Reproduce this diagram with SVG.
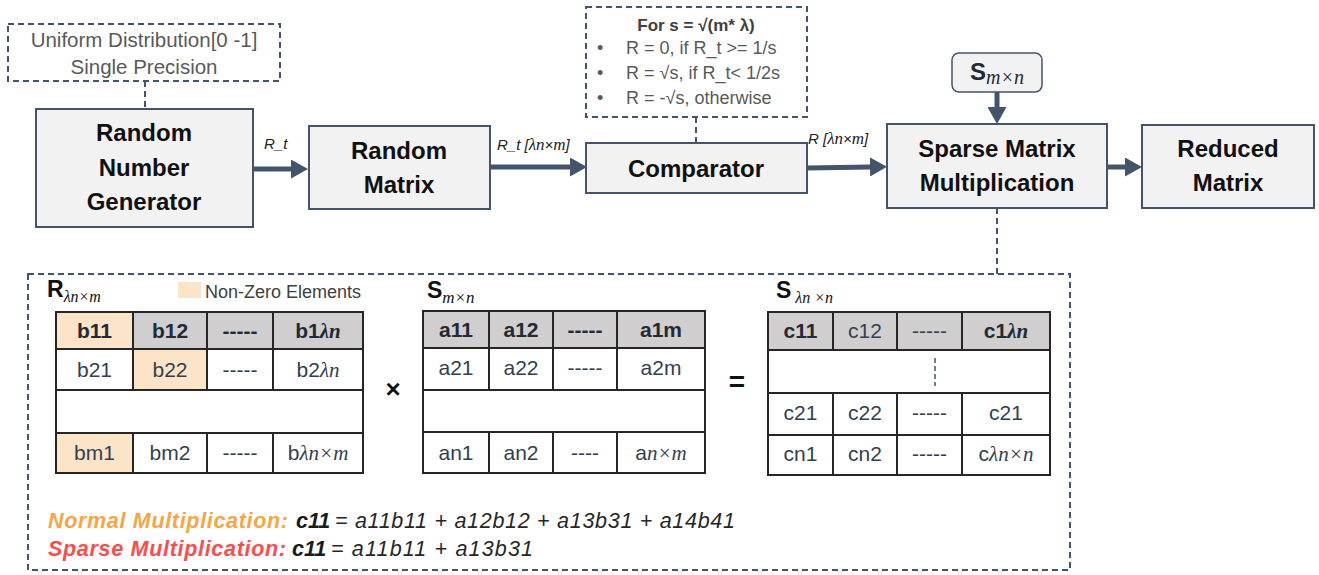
<svg xmlns="http://www.w3.org/2000/svg" width="1319" height="575" viewBox="0 0 1319 575">
<style>
.box{fill:#F2F2F2;stroke:#44546A;stroke-width:2}
.dbox{fill:#FFFFFF;stroke:#44546A;stroke-width:2;stroke-dasharray:6 4}
.dline{fill:none;stroke:#44546A;stroke-width:2;stroke-dasharray:6 4}
.arr{fill:none;stroke:#44546A;stroke-width:5}
.nt{font-family:"Liberation Sans",Arial,sans-serif;font-weight:bold;font-size:24px;fill:#111111;text-anchor:middle}
.gt{font-family:"Liberation Sans",Arial,sans-serif;font-size:20.5px;fill:#595959;text-anchor:middle}
.ct{font-family:"Liberation Sans",Arial,sans-serif;font-size:18px;fill:#595959}
.el{font-family:"Liberation Sans",Arial,sans-serif;font-style:italic;font-size:15px;fill:#222222}
.m{font-family:"Liberation Serif","DejaVu Serif",serif;font-style:italic}
.cell{fill:#FFFFFF;stroke:#262626;stroke-width:2}
.gray{fill:#D0CECE;stroke:#262626;stroke-width:2}
.org{fill:#FCE4C8;stroke:#262626;stroke-width:2}
.tx{font-family:"Liberation Sans",Arial,sans-serif;font-size:21px;fill:#333F50;text-anchor:middle}
.tb{font-family:"Liberation Sans",Arial,sans-serif;font-size:21px;font-weight:bold;fill:#222A35;text-anchor:middle}
.lbl{font-family:"Liberation Sans",Arial,sans-serif;font-size:23px;font-weight:bold;fill:#111111}
.fm{font-family:"Liberation Sans",Arial,sans-serif;font-style:italic;font-size:21.5px;fill:#262626}
</style>
<defs>
<marker id="ah" viewBox="0 0 17 19" refX="0" refY="9.5" markerWidth="17" markerHeight="19" markerUnits="userSpaceOnUse" orient="auto">
<polygon points="0,0 17,9.5 0,19" fill="#44546A"/>
</marker>
</defs>

<g id="connectors">
<line class="arr" x1="253" y1="169" x2="291" y2="169" marker-end="url(#ah)"/>
<line class="arr" x1="490" y1="167" x2="570" y2="167" marker-end="url(#ah)"/>
<line class="arr" x1="807" y1="168" x2="870" y2="167" marker-end="url(#ah)"/>
<line class="arr" x1="1107" y1="167" x2="1125" y2="167" marker-end="url(#ah)"/>
<line class="arr" x1="997" y1="92" x2="997" y2="107" marker-end="url(#ah)"/>
<line class="dline" x1="145" y1="81" x2="145" y2="108"/>
<line class="dline" x1="696" y1="117" x2="696" y2="143"/>
<line class="dline" x1="997" y1="208" x2="997" y2="274"/>
<text class="el" x="264" y="149">R_t</text>
<text class="el" x="497" y="150">R_t [<tspan class="m" style="font-size:17px">λn</tspan>×<tspan class="m" style="font-size:17px">m</tspan>]</text>
<text class="el" x="808" y="144">R [<tspan class="m" style="font-size:17px">λn</tspan>×<tspan class="m" style="font-size:17px">m</tspan>]</text>
</g>

<g id="uniform-note">
<rect class="dbox" x="8" y="24" width="272" height="57"/>
<text class="gt" x="144" y="47">Uniform Distribution[0 -1]</text>
<text class="gt" x="144" y="74">Single Precision</text>
</g>

<g id="rng">
<rect class="box" x="36" y="109" width="217" height="118"/>
<text class="nt" x="144" y="141">Random</text>
<text class="nt" x="144" y="176">Number</text>
<text class="nt" x="144" y="210">Generator</text>
</g>

<g id="random-matrix">
<rect class="box" x="309" y="126" width="181" height="83"/>
<text class="nt" x="399" y="159">Random</text>
<text class="nt" x="399" y="193">Matrix</text>
</g>

<g id="comparator-note">
<rect class="dbox" x="586" y="7" width="221" height="110"/>
<text x="696" y="31" style="font-family:'Liberation Sans',Arial,sans-serif;font-size:17px;font-weight:bold;fill:#404040;text-anchor:middle">For s = √(m* λ)</text>
<text class="ct" x="597" y="54">•</text>
<text class="ct" x="626" y="54">R = 0, if R_t &gt;= 1/s</text>
<text class="ct" x="597" y="79">•</text>
<text class="ct" x="626" y="79">R = √s, if R_t&lt; 1/2s</text>
<text class="ct" x="597" y="104">•</text>
<text class="ct" x="626" y="104">R = -√s, otherwise</text>
</g>

<g id="comparator">
<rect class="box" x="586" y="143" width="221" height="50"/>
<text class="nt" x="696" y="177">Comparator</text>
</g>

<g id="s-input">
<rect class="box" x="952" y="53" width="90" height="39" rx="7" style="stroke-width:1.5"/>
<text x="970" y="80" style="font-family:'Liberation Sans',Arial,sans-serif;font-size:24px;font-weight:bold;fill:#222A35">S<tspan class="m" style="font-weight:normal;font-size:20px" dy="4">m×n</tspan></text>
</g>

<g id="sparse-mult">
<rect class="box" x="887" y="124" width="220" height="84"/>
<text class="nt" x="997" y="157">Sparse Matrix</text>
<text class="nt" x="997" y="191">Multiplication</text>
</g>

<g id="reduced-matrix">
<rect class="box" x="1142" y="125" width="172" height="83"/>
<text class="nt" x="1228" y="157">Reduced</text>
<text class="nt" x="1228" y="191">Matrix</text>
</g>

<g id="detail">
<rect class="dline" x="28" y="274" width="1042" height="296"/>

<text class="lbl" x="47" y="297">R<tspan class="m" style="font-weight:normal;font-size:16px" dy="5">λn×m</tspan></text>
<rect x="178" y="282" width="23" height="16" fill="#FCE4C8"/>
<text x="205" y="298" style="font-family:'Liberation Sans',Arial,sans-serif;font-size:18px;fill:#404040">Non-Zero Elements</text>

<g id="matrix-r">
<rect class="org" x="56" y="312" width="77" height="37"/>
<rect class="gray" x="133" y="312" width="74" height="37"/>
<rect class="gray" x="207" y="312" width="66" height="37"/>
<rect class="gray" x="273" y="312" width="90" height="37"/>
<rect class="cell" x="56" y="349" width="77" height="41"/>
<rect class="org" x="133" y="349" width="74" height="41"/>
<rect class="cell" x="207" y="349" width="66" height="41"/>
<rect class="cell" x="273" y="349" width="90" height="41"/>
<rect class="cell" x="56" y="390" width="307" height="43"/>
<rect class="org" x="56" y="433" width="77" height="40"/>
<rect class="cell" x="133" y="433" width="74" height="40"/>
<rect class="cell" x="207" y="433" width="66" height="40"/>
<rect class="cell" x="273" y="433" width="90" height="40"/>
<text class="tb" x="94.5" y="338">b11</text>
<text class="tb" x="170" y="338">b12</text>
<text class="tb" x="240" y="338">-----</text>
<text class="tb" x="318" y="338">b1<tspan class="m">λn</tspan></text>
<text class="tx" x="94.5" y="377">b21</text>
<text class="tx" x="170" y="377">b22</text>
<text class="tx" x="240" y="377">-----</text>
<text class="tx" x="318" y="377">b2<tspan class="m">λn</tspan></text>
<text class="tx" x="94.5" y="460">bm1</text>
<text class="tx" x="170" y="460">bm2</text>
<text class="tx" x="240" y="460">-----</text>
<text class="tx" x="318" y="460">b<tspan class="m">λn×m</tspan></text>
</g>

<text x="393" y="398" style="font-family:'Liberation Sans',Arial,sans-serif;font-size:26px;font-weight:bold;fill:#111111;text-anchor:middle">×</text>

<text class="lbl" x="427" y="298">S<tspan class="m" style="font-weight:normal;font-size:17px" dy="5">m×n</tspan></text>
<g id="matrix-s">
<rect class="gray" x="423" y="311" width="66" height="37"/>
<rect class="gray" x="489" y="311" width="64" height="37"/>
<rect class="gray" x="553" y="311" width="64" height="37"/>
<rect class="gray" x="617" y="311" width="88" height="37"/>
<rect class="cell" x="423" y="348" width="66" height="42"/>
<rect class="cell" x="489" y="348" width="64" height="42"/>
<rect class="cell" x="553" y="348" width="64" height="42"/>
<rect class="cell" x="617" y="348" width="88" height="42"/>
<rect class="cell" x="423" y="390" width="282" height="42"/>
<rect class="cell" x="423" y="432" width="66" height="41"/>
<rect class="cell" x="489" y="432" width="64" height="41"/>
<rect class="cell" x="553" y="432" width="64" height="41"/>
<rect class="cell" x="617" y="432" width="88" height="41"/>
<text class="tb" x="456" y="337">a11</text>
<text class="tb" x="521" y="337">a12</text>
<text class="tb" x="585" y="337">-----</text>
<text class="tb" x="661" y="337">a1m</text>
<text class="tx" x="456" y="375">a21</text>
<text class="tx" x="521" y="375">a22</text>
<text class="tx" x="585" y="375">-----</text>
<text class="tx" x="661" y="375">a2m</text>
<text class="tx" x="456" y="460">an1</text>
<text class="tx" x="521" y="460">an2</text>
<text class="tx" x="585" y="460">----</text>
<text class="tx" x="661" y="460">a<tspan class="m">n×m</tspan></text>
</g>

<text x="737" y="391" style="font-family:'Liberation Sans',Arial,sans-serif;font-size:28px;font-weight:bold;fill:#111111;text-anchor:middle">=</text>

<text class="lbl" x="776" y="298">S<tspan class="m" style="font-weight:normal;font-size:16px" dy="5"> λn ×n</tspan></text>
<g id="matrix-c">
<rect class="gray" x="768" y="312" width="65" height="38"/>
<rect class="gray" x="833" y="312" width="64" height="38"/>
<rect class="gray" x="897" y="312" width="65" height="38"/>
<rect class="gray" x="962" y="312" width="88" height="38"/>
<rect class="cell" x="768" y="350" width="282" height="43"/>
<line x1="935" y1="358" x2="935" y2="386" stroke="#44546A" stroke-width="1.5" stroke-dasharray="5 3"/>
<rect class="cell" x="768" y="393" width="65" height="42"/>
<rect class="cell" x="833" y="393" width="64" height="42"/>
<rect class="cell" x="897" y="393" width="65" height="42"/>
<rect class="cell" x="962" y="393" width="88" height="42"/>
<rect class="cell" x="768" y="435" width="65" height="40"/>
<rect class="cell" x="833" y="435" width="64" height="40"/>
<rect class="cell" x="897" y="435" width="65" height="40"/>
<rect class="cell" x="962" y="435" width="88" height="40"/>
<text class="tb" x="800.5" y="338">c11</text>
<text class="tx" x="865" y="338">c12</text>
<text class="tx" x="929.5" y="338">-----</text>
<text class="tb" x="1006" y="338">c1<tspan class="m">λn</tspan></text>
<text class="tx" x="800.5" y="420">c21</text>
<text class="tx" x="865" y="420">c22</text>
<text class="tx" x="929.5" y="420">-----</text>
<text class="tx" x="1006" y="420">c21</text>
<text class="tx" x="800.5" y="461">cn1</text>
<text class="tx" x="865" y="461">cn2</text>
<text class="tx" x="929.5" y="461">-----</text>
<text class="tx" x="1006" y="461">c<tspan class="m">λn×n</tspan></text>
</g>

<g id="formulas">
<text class="fm" x="48" y="528" textLength="240" style="font-weight:bold;fill:#F9A541">Normal Multiplication:</text>
<text class="fm" x="296" y="528" style="font-weight:bold;fill:#1a1a1a">c11</text>
<text class="fm" x="335" y="528" textLength="400">= a11b11 + a12b12 + a13b31 + a14b41</text>
<text class="fm" x="48" y="556" textLength="238" style="font-weight:bold;fill:#FF4B4B">Sparse Multiplication:</text>
<text class="fm" x="292" y="556" style="font-weight:bold;fill:#1a1a1a">c11</text>
<text class="fm" x="331" y="556" textLength="202">= a11b11  + a13b31</text>
</g>
</g>
</svg>
